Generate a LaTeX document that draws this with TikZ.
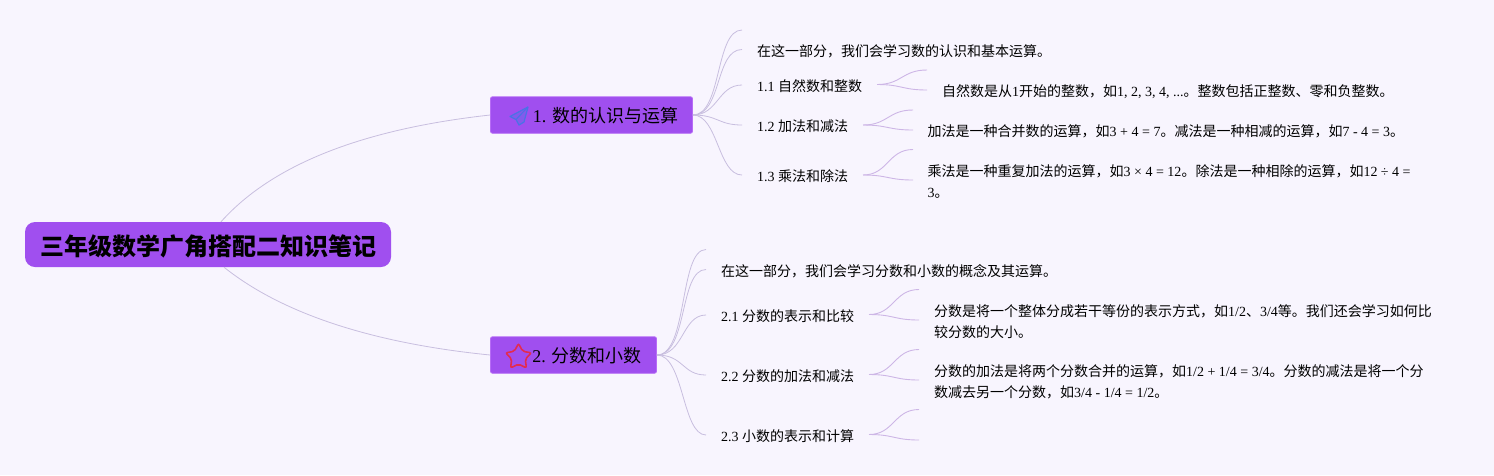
\documentclass[tikz,border=0pt]{standalone}
\usepackage{fontspec}
\setmainfont{Liberation Serif}
\newfontfamily\cjk{Noto Sans CJK SC}
\newcommand{\zh}[1]{{\cjk #1}}
\usepackage{tikz}
\usetikzlibrary{shapes.geometric}
\definecolor{mapbg}{HTML}{F8F5FE}
\definecolor{boxfill}{HTML}{A04FEF}
\definecolor{boxline}{HTML}{B76CF6}
\definecolor{linkone}{HTML}{C8BEDF}
\definecolor{linktwo}{HTML}{CDB6E6}
\definecolor{planeblue}{HTML}{4A72E6}
\definecolor{starred}{HTML}{E32B50}

\begin{document}
\begin{tikzpicture}[x=1pt,y=-1pt,
    rootbox/.style={fill=boxfill,rounded corners=10pt,minimum width=366pt,minimum height=45pt,inner sep=0pt,text height=22pt,text depth=0pt,font=\fontsize{24}{28}\selectfont\cjk\bfseries},
    branchbox/.style={fill=boxfill,draw=boxline,line width=0.8pt,rounded corners=2pt,minimum height=36.5pt,inner sep=0pt,text height=15.6pt,text depth=0pt,font=\fontsize{18}{22}\selectfont},
    leaf/.style={anchor=west,inner sep=0pt,align=left,font=\fontsize{14}{21}\selectfont},
    linka/.style={draw=linkone,line width=0.8pt},
    linkb/.style={draw=linktwo,line width=0.9pt}]

        %background
        \fill[mapbg] (0,0) rectangle (1494,475);
        \useasboundingbox (0,0) rectangle (1494,475);

        %root and branches
        \node[rootbox] (root) at (208,244.5) {\hspace{1pt}三年级数学广角搭配二知识笔记};
        \node[branchbox,minimum width=202pt] (B1) at (591.5,115) {\hspace{28pt}1. \zh{数的认识与运算}};
        \node[branchbox,minimum width=166pt] (B2) at (573.5,355) {\hspace{27pt}2. \zh{分数和小数}};

        %icons
        \node[draw=starred,line width=1.6pt,star,star points=5,star point ratio=1.9,minimum size=27pt,inner sep=0pt,rounded corners=2pt] (starB2) at (518.5,357) {};
        \coordinate (planeB1) at (519,115);
        \draw[planeblue,line width=1.2pt,line join=round,fill=planeblue!35!boxfill] (528,107) -- (510,116.5) -- (516,119.5) -- (519,125) -- (524,122) -- cycle;
        \draw[planeblue,line width=1pt] (528,107) -- (516,119.5);

        %first part
        \node[leaf] (A0) at (757,51.7) {\zh{在这一部分，我们会学习数的认识和基本运算。}};
        \node[leaf] (A1) at (757,86.5) {1.1 \zh{自然数和整数}};
        \node[leaf] (A2) at (757,126.5) {1.2 \zh{加法和减法}};
        \node[leaf] (A3) at (757,176.5) {1.3 \zh{乘法和除法}};
        \node[leaf] (A1t) at (942,91.7) {\zh{自然数是从}1\zh{开始的整数，如}1, 2, 3, 4, ...\zh{。整数包括正整数、零和负整数。}};
        \node[leaf] (A2t) at (927.5,131.5) {\zh{加法是一种合并数的运算，如}3 + 4 = 7\zh{。减法是一种相减的运算，如}7 - 4 = 3\zh{。}};
        \node[leaf] (A3t) at (927.5,181.5) {\zh{乘法是一种重复加法的运算，如}3 × 4 = 12\zh{。除法是一种相除的运算，如}12 ÷ 4 =\\3\zh{。}};

        %second part
        \node[leaf] (C0) at (721,271.7) {\zh{在这一部分，我们会学习分数和小数的概念及其运算。}};
        \node[leaf] (C1) at (721,316.5) {2.1 \zh{分数的表示和比较}};
        \node[leaf] (C2) at (721,376.5) {2.2 \zh{分数的加法和减法}};
        \node[leaf] (C3) at (721,436.5) {2.3 \zh{小数的表示和计算}};
        \node[leaf] (C1t) at (934,322) {\zh{分数是将一个整体分成若干等份的表示方式，如}1/2\zh{、}3/4\zh{等。我们还会学习如何比}\\\zh{较分数的大小。}};
        \node[leaf] (C2t) at (934,382) {\zh{分数的加法是将两个分数合并的运算，如}1/2 + 1/4 = 3/4\zh{。分数的减法是将一个分}\\\zh{数减去另一个分数，如}3/4 - 1/4 = 1/2\zh{。}};

        %free ends
        \coordinate (a0) at (742,30);
        \coordinate (a0t) at (742,49.5);
        \coordinate (a1) at (742,85);
        \coordinate (a2) at (742,125);
        \coordinate (a3) at (742,175);
        \coordinate (s1) at (877,84.5);
        \coordinate (s1a) at (927,70);
        \coordinate (s1b) at (927,90);
        \coordinate (s2) at (863,125);
        \coordinate (s2a) at (913,110);
        \coordinate (s2b) at (913,130);
        \coordinate (s3) at (863,175);
        \coordinate (s3a) at (913,149.5);
        \coordinate (s3b) at (913,180);

        \coordinate (c0) at (706,249.5);
        \coordinate (c0t) at (706,269.5);
        \coordinate (c1) at (706,315);
        \coordinate (c2) at (706,375);
        \coordinate (c3) at (706,435);
        \coordinate (u1) at (869,314.5);
        \coordinate (u1a) at (919,289.5);
        \coordinate (u1b) at (919,320);
        \coordinate (u2) at (869,374.5);
        \coordinate (u2a) at (919,349.5);
        \coordinate (u2b) at (919,380);
        \coordinate (u3) at (869,434.5);
        \coordinate (u3a) at (919,409.5);
        \coordinate (u3b) at (919,440);

        %root links
        \draw[linka] ([xshift=13pt]root.north) .. controls (285,150) and (400,125) .. (B1.west);
        \draw[linka] ([xshift=16pt]root.south) .. controls (290,320) and (390,345) .. (B2.west);

        %first level links
        \draw[linka] (B1.east) .. controls (722,115) and (715,30) .. (a0);
        \draw[linka] (B1.east) .. controls (722,115) and (715,49.5) .. (a0t);
        \draw[linka] (B1.east) .. controls (718,115) and (718,85) .. (a1);
        \draw[linka] (B1.east) .. controls (718,115) and (718,125) .. (a2);
        \draw[linka] (B1.east) .. controls (718,115) and (718,175) .. (a3);
        \draw[linka] (B2.east) .. controls (688,355) and (679,249.5) .. (c0);
        \draw[linka] (B2.east) .. controls (688,355) and (679,269.5) .. (c0t);
        \draw[linka] (B2.east) .. controls (684,355) and (682,315) .. (c1);
        \draw[linka] (B2.east) .. controls (684,355) and (682,375) .. (c2);
        \draw[linka] (B2.east) .. controls (684,355) and (682,435) .. (c3);

        %second level links
        \draw[linkb] (s1) .. controls (902,84.5) and (902,70) .. (s1a);
        \draw[linkb] (s1) .. controls (902,84.5) and (902,90) .. (s1b);
        \draw[linkb] (s2) .. controls (888,125) and (888,110) .. (s2a);
        \draw[linkb] (s2) .. controls (888,125) and (888,130) .. (s2b);
        \draw[linkb] (s3) .. controls (888,175) and (888,149.5) .. (s3a);
        \draw[linkb] (s3) .. controls (888,175) and (888,180) .. (s3b);
        \draw[linkb] (u1) .. controls (894,314.5) and (894,289.5) .. (u1a);
        \draw[linkb] (u1) .. controls (894,314.5) and (894,320) .. (u1b);
        \draw[linkb] (u2) .. controls (894,374.5) and (894,349.5) .. (u2a);
        \draw[linkb] (u2) .. controls (894,374.5) and (894,380) .. (u2b);
        \draw[linkb] (u3) .. controls (894,434.5) and (894,409.5) .. (u3a);
        \draw[linkb] (u3) .. controls (894,434.5) and (894,440) .. (u3b);
\end{tikzpicture}
\end{document}
